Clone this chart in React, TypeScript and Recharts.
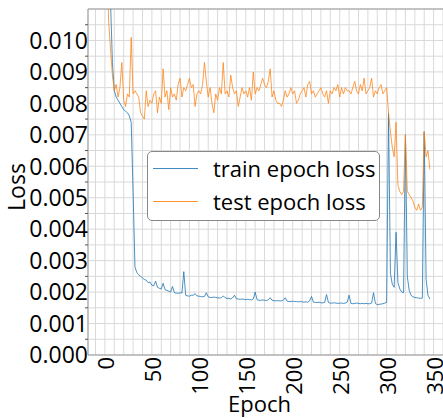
import {
  CartesianGrid,
  Legend,
  Line,
  LineChart,
  ReferenceLine,
  XAxis,
  YAxis,
} from "recharts";

const epochs = [
  0, 2, 4, 6, 8, 10, 12, 14, 16, 18, 20, 22, 24, 26, 28, 30, 32, 34, 36, 38,
  40, 42, 44, 46, 48, 50, 52, 54, 56, 58, 60, 62, 64, 66, 68, 70, 72, 74, 76, 78,
  80, 82, 84, 86, 88, 90, 92, 94, 96, 98, 100, 102, 104, 106, 108, 110, 112, 114, 116, 118,
  120, 122, 124, 126, 128, 130, 132, 134, 136, 138, 140, 142, 144, 146, 148, 150, 152, 154, 156, 158,
  160, 162, 164, 166, 168, 170, 172, 174, 176, 178, 180, 182, 184, 186, 188, 190, 192, 194, 196, 198,
  200, 202, 204, 206, 208, 210, 212, 214, 216, 218, 220, 222, 224, 226, 228, 230, 232, 234, 236, 238,
  240, 242, 244, 246, 248, 250, 252, 254, 256, 258, 260, 262, 264, 266, 268, 270, 272, 274, 276, 278,
  280, 282, 284, 286, 288, 290, 292, 294, 296, 298, 300, 302, 304, 306, 308, 310, 312, 314, 316, 318,
  320, 322, 324, 326, 328, 330, 332, 334, 336, 338, 340, 342, 344, 346,
];

const trainLoss = [
  0.016, 0.014, 0.0122, 0.0112, 0.0093, 0.0084, 0.0082, 0.0081, 0.008, 0.0079,
  0.0078, 0.00775, 0.0077, 0.0076, 0.0074, 0.0052, 0.0028, 0.00262, 0.00255, 0.0025,
  0.00245, 0.0024, 0.00238, 0.0023, 0.00232, 0.00222, 0.0022, 0.00235, 0.00215, 0.00212,
  0.0021, 0.00228, 0.00208, 0.00205, 0.00203, 0.002, 0.00218, 0.00198, 0.00197, 0.00196,
  0.00198, 0.00197, 0.00265, 0.0019, 0.00188, 0.00187, 0.0019, 0.0019, 0.00195, 0.00188,
  0.00187, 0.00186, 0.00185, 0.00186, 0.00198, 0.00185, 0.00183, 0.00183, 0.00184, 0.00183,
  0.00182, 0.00181, 0.00182, 0.00188, 0.00182, 0.0018, 0.0018, 0.00178, 0.00182, 0.0019,
  0.00179, 0.00178, 0.00177, 0.00178, 0.00177, 0.00176, 0.00177, 0.00176, 0.00175, 0.00178,
  0.002, 0.00176, 0.00174, 0.00174, 0.00175, 0.00174, 0.00173, 0.00176, 0.00182, 0.00174,
  0.00173, 0.00172, 0.00173, 0.00172, 0.00172, 0.00175, 0.00182, 0.00171, 0.0017, 0.0017,
  0.00171, 0.0017, 0.0017, 0.00169, 0.0017, 0.00169, 0.00168, 0.00169, 0.00168, 0.00172,
  0.00186, 0.00168, 0.00167, 0.00167, 0.00168, 0.00166, 0.00166, 0.00167, 0.00192, 0.00167,
  0.00165, 0.00165, 0.00166, 0.00165, 0.00164, 0.00165, 0.00165, 0.00164, 0.00165, 0.00168,
  0.0019, 0.00164, 0.00163, 0.00164, 0.00165, 0.00164, 0.00163, 0.00164, 0.00163, 0.00164,
  0.00163, 0.00163, 0.00165, 0.00198, 0.00164, 0.0016, 0.00161, 0.00162, 0.00163, 0.00165,
  0.00167, 0.0077, 0.0026, 0.00225, 0.00215, 0.0039, 0.0023, 0.0021, 0.002, 0.00198,
  0.007, 0.0025, 0.00205, 0.0019, 0.00185, 0.00183, 0.00182, 0.00181, 0.0018, 0.00181,
  0.0071, 0.0024, 0.0019, 0.00178,
];

const testLoss = [
  0.015, 0.0125, 0.0106, 0.0097, 0.0089, 0.0084, 0.0086, 0.0082, 0.0085, 0.0093,
  0.0081, 0.0079, 0.0083, 0.0082, 0.0101, 0.0083, 0.0084, 0.0083, 0.0082, 0.0077,
  0.0076, 0.0075, 0.0084, 0.0079, 0.0081, 0.008, 0.0083, 0.0084, 0.0077, 0.0082,
  0.008, 0.0091, 0.0082, 0.0084, 0.0078, 0.0085, 0.0082, 0.0083, 0.0081, 0.0086,
  0.0088, 0.0082, 0.0085, 0.0084, 0.0086, 0.0088, 0.0085, 0.0086, 0.0079, 0.0083,
  0.0084, 0.0083, 0.0086, 0.0093, 0.0087, 0.0082, 0.0085, 0.008, 0.0077, 0.0083,
  0.0081, 0.0085, 0.0083, 0.0093, 0.0083, 0.0084, 0.0082, 0.0089, 0.0085, 0.0083,
  0.0084, 0.0079, 0.0082, 0.0085, 0.0083, 0.0084, 0.0082, 0.0085, 0.0081, 0.009,
  0.0083, 0.0085, 0.0084, 0.0086, 0.0088, 0.0086, 0.0085, 0.0087, 0.0091, 0.0082,
  0.0084, 0.0081, 0.008, 0.008, 0.0079, 0.0081, 0.0084, 0.0082, 0.0083, 0.0085,
  0.0083, 0.0084, 0.008, 0.0081, 0.0083, 0.0084, 0.0085, 0.0082, 0.0086, 0.0087,
  0.0083, 0.0084, 0.0082, 0.0083, 0.0084, 0.0085, 0.0083, 0.0082, 0.0084, 0.008,
  0.0084, 0.0083, 0.0085, 0.0084, 0.0086, 0.0082, 0.0085, 0.0083, 0.0085, 0.0084,
  0.0084, 0.0083, 0.0085, 0.0087, 0.0084, 0.0083, 0.0086, 0.0084, 0.0088, 0.0083,
  0.0084, 0.0085, 0.0088, 0.0082, 0.0084, 0.0083, 0.0085, 0.0086, 0.0083, 0.0084,
  0.0085, 0.0077, 0.0071, 0.0066, 0.0063, 0.0074, 0.0054, 0.0052, 0.0051, 0.0052,
  0.007, 0.0052, 0.0051, 0.005, 0.0049, 0.0047, 0.0046, 0.0048, 0.0046, 0.0047,
  0.0071, 0.0063, 0.0065, 0.0059,
];

// grid every 10 epochs, labels every 50
const xTicks = [
  -10, 0, 10, 20, 30, 40, 50, 60, 70, 80, 90, 100, 110, 120, 130, 140, 150, 160, 170, 180,
  190, 200, 210, 220, 230, 240, 250, 260, 270, 280, 290, 300, 310, 320, 330, 340, 350,
];
const xLabels = [0, 50, 100, 150, 200, 250, 300, 350];

// grid every 0.0005, labels every 0.001
const yTicks = [
  0, 0.0005, 0.001, 0.0015, 0.002, 0.0025, 0.003, 0.0035, 0.004, 0.0045, 0.005,
  0.0055, 0.006, 0.0065, 0.007, 0.0075, 0.008, 0.0085, 0.009, 0.0095, 0.01, 0.0105,
];
const yLabels = ["0.000", "0.001", "0.002", "0.003", "0.004", "0.005", "0.006", "0.007", "0.008", "0.009", "0.010"];

const seriesNames = ["train epoch loss", "test epoch loss"];
const BLUE = "#1f77b4";
const ORANGE = "#ff7f0e";
const FONT = "'Open Sans', sans-serif";

const data = epochs.map((epoch, i) => ({
  epoch,
  train: trainLoss[i],
  test: testLoss[i],
}));

function XTick({ x, y, payload }: any) {
  if (!xLabels.includes(payload.value)) return <g />;
  return (
    <text
      x={x}
      y={y}
      transform={`rotate(-90 ${x} ${y})`}
      textAnchor="end"
      dominantBaseline="central"
      fontSize={22}
      fontFamily={FONT}
      fill="#000"
    >
      {payload.value}
    </text>
  );
}

function YTick({ x, y, payload }: any) {
  const label = yLabels.find((l) => Math.abs(parseFloat(l) - payload.value) < 1e-7);
  if (!label) {
    return <line x1={x - 3} x2={x} y1={y} y2={y} stroke="#555" strokeWidth={1} />;
  }
  return (
    <text x={x} y={y} dy="0.36em" textAnchor="end" fontSize={23} fontFamily={FONT} fill="#000">
      {label}
    </text>
  );
}

function LossLegend() {
  const colors = [BLUE, ORANGE];
  return (
    <div
      style={{
        width: 231,
        height: 68,
        border: "1.5px solid #888",
        borderRadius: 5,
        background: "#fff",
        fontFamily: FONT,
        fontSize: 22,
        boxSizing: "content-box",
      }}
    >
      {seriesNames.map((name, i) => (
        <div
          key={name}
          style={{ display: "flex", alignItems: "center", height: 32, marginTop: i === 0 ? 0 : 1, paddingTop: i === 0 ? 0 : 0 }}
        >
          <div style={{ width: 45, height: 0, borderTop: `1.5px solid ${colors[i]}`, marginLeft: 5, marginRight: 15, opacity: 0.85 }} />
          <span style={{ lineHeight: "32px", color: "#000" }}>{name}</span>
        </div>
      ))}
    </div>
  );
}

export default function App() {
  return (
    <div style={{ position: "absolute", left: 0, top: 0, width: 443, height: 418, background: "#fff" }}>
      <LineChart width={443} height={418} data={data} margin={{ top: 9, right: 0, bottom: 0, left: 0 }}>
        <CartesianGrid stroke="#d9d9d9" strokeWidth={1} />
        <XAxis
          dataKey="epoch"
          type="number"
          domain={[-18, 360]}
          ticks={xTicks}
          interval={0}
          allowDataOverflow
          height={63}
          tickSize={0}
          tickMargin={2}
          tick={<XTick />}
          stroke="#999"
          label={{ value: "Epoch", position: "insideBottom", offset: 6, dx: -6, fontSize: 22, fontFamily: FONT, fill: "#000" }}
        />
        <YAxis
          type="number"
          domain={[0, 0.011]}
          ticks={yTicks}
          interval={0}
          allowDataOverflow
          width={88}
          tickSize={0}
          tickMargin={0}
          tick={<YTick />}
          stroke="#999"
          label={{
            content: ({ viewBox }: any) => {
              const cx = viewBox.x + 25;
              const cy = viewBox.y + viewBox.height / 2 + 5;
              return (
                <text
                  x={cx}
                  y={cy}
                  transform={`rotate(-90 ${cx} ${cy})`}
                  textAnchor="middle"
                  fontSize={23}
                  fontFamily={FONT}
                  fill="#000"
                >
                  Loss
                </text>
              );
            },
          }}
        />
        <ReferenceLine y={0.011} stroke="#999" strokeWidth={1} ifOverflow="visible" />
        <Line
          type="linear"
          dataKey="train"
          name={seriesNames[0]}
          stroke={BLUE}
          strokeOpacity={0.8}
          strokeWidth={1}
          dot={false}
          isAnimationActive={false}
        />
        <Line
          type="linear"
          dataKey="test"
          name={seriesNames[1]}
          stroke={ORANGE}
          strokeOpacity={0.75}
          strokeWidth={1}
          dot={false}
          isAnimationActive={false}
        />
        <Legend
          layout="horizontal"
          verticalAlign="middle"
          align="center"
          content={<LossLegend />}
          wrapperStyle={{ position: "absolute", left: 147, top: 151, width: "auto" }}
        />
      </LineChart>
    </div>
  );
}
